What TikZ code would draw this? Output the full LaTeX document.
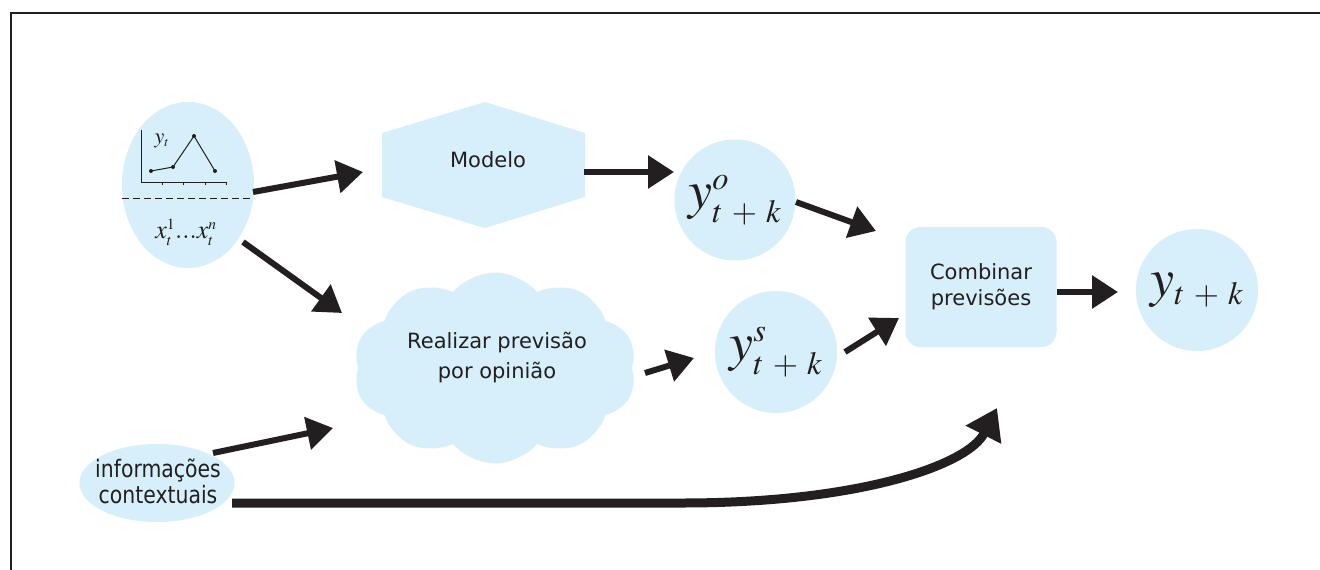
\documentclass[tikz,border=0pt]{standalone}
\usepackage{mathptmx}
\usepackage{fontspec}
\setmainfont{DejaVu Sans}
\usepackage{graphicx}
\usetikzlibrary{shapes.geometric,shapes.symbols,arrows.meta}
\definecolor{fillc}{HTML}{D6EFFA}
\definecolor{ink}{HTML}{231F20}
\newcommand{\myss}[1]{{\scriptscriptstyle #1}}
\newcommand{\mytk}{\myss{t\mskip5mu+\mskip5mu k}}
\begin{document}
\begin{tikzpicture}[x=1pt,y=-1pt,
  txt/.style={font=\fontsize{21}{30}\selectfont, text=ink, align=center, inner sep=0},
  arr/.style={line width=6pt, draw=ink, -{Triangle[length=26pt,width=32pt]}},
  bubble/.style={fill=fillc, draw=none, inner sep=0},
  mathbig/.style={text=ink, font=\fontsize{54}{54}\selectfont}]
\fill[white] (0,0) rectangle (1320,570);
\useasboundingbox (0,0) rectangle (1320,570);
% frame
\draw[ink, line width=2pt] (11,570) -- (11,13) -- (1320,13);

% data ellipse
\node[bubble, ellipse, minimum width=132, minimum height=166] (data) at (188,185) {};
\draw[ink, line width=1pt] (141,130) -- (141,182) -- (226,182);
\foreach \x in {162,183,205,226} \draw[ink, line width=0.8pt] (\x,182) -- (\x,185);
\draw[ink, line width=1pt] (151,171) -- (173,167) -- (194,136) -- (215,171);
\foreach \p in {(151,171),(173,167),(194,136),(215,171)} \fill[ink] \p circle (2);
\node[text=ink, inner sep=0, font=\fontsize{22}{22}\selectfont] (ylab) at (162,141) {$y_{\myss{t}}$};
\draw[ink, line width=1pt, dash pattern=on 7pt off 4pt] (122,198) -- (254,198);
\node[text=ink, inner sep=0, font=\fontsize{26}{26}\selectfont] (xlab) at (186,232) {$x^{\myss{1}}_{\myss{t}}...x^{\myss{n}}_{\myss{t}}$};

% Modelo hexagon
\fill[fillc] (485,102) -- (585,133) -- (585,197) -- (485,228) -- (382,197) -- (382,133) -- cycle;
\node[txt] (modelo) at (488,160) {Modelo};

% forecasts
\node[bubble, circle, minimum size=121, mathbig] (yo) at (735,200) {$y^{\myss{o}}_{\mytk}$};
\node[bubble, circle, minimum size=122, mathbig] (ys) at (776,352) {$y^{\myss{s}}_{\mytk}$};
\node[bubble, circle, minimum size=122, mathbig] (yf) at (1197,290) {$y_{\mytk}$};

% cloud
\node[bubble, cloud, cloud puffs=10, cloud puff arc=100, aspect=1.48, minimum width=283, minimum height=191] (cloud) at (495,368) {};
\node[txt] (cloudtxt) at (497,358) {Realizar previsão\\por opinião};

% combine
\node[bubble, rounded corners=15pt, minimum width=151, minimum height=120, txt, font=\fontsize{21}{26}\selectfont] (comb) at (981,287) {Combinar\\previsões};

% context
\node[bubble, ellipse, minimum width=155, minimum height=78] (info) at (157,483) {};
\node[text=ink, align=center, inner sep=0, font=\fontsize{24}{26}\selectfont] (infotxt) at (158,481) {\scalebox{0.85}[1]{informações}\\\scalebox{0.85}[1]{contextuais}};

% connector end points
\coordinate (a1s) at (253,192); \coordinate (a1e) at (363,172);
\coordinate (a2s) at (243,242); \coordinate (a2e) at (342,313);
\coordinate (a3s) at (584,172); \coordinate (a3e) at (674,172);
\coordinate (a4s) at (796,202); \coordinate (a4e) at (876,231);
\coordinate (a5s) at (645,373); \coordinate (a5e) at (694,358);
\coordinate (a6s) at (845,352); \coordinate (a6e) at (899,318);
\coordinate (a7s) at (1057,292); \coordinate (a7e) at (1118,292);
\coordinate (a8s) at (213,453); \coordinate (a8e) at (333,428);
\coordinate (a9s) at (232,503); \coordinate (a9m) at (682,503); \coordinate (a9e) at (997,408);

\draw[arr] (a1s) -- (a1e);
\draw[arr] (a2s) -- (a2e);
\draw[arr] (a3s) -- (a3e);
\draw[arr] (a4s) -- (a4e);
\draw[arr] (a5s) -- (a5e);
\draw[arr] (a6s) -- (a6e);
\draw[arr] (a7s) -- (a7e);
\draw[arr] (a8s) -- (a8e);
\draw[ink, line width=9pt, -{Triangle[length=30pt,width=38pt]}] (a9s) -- (a9m) .. controls (860,503) and (968,465) .. (a9e);
\end{tikzpicture}
\end{document}
